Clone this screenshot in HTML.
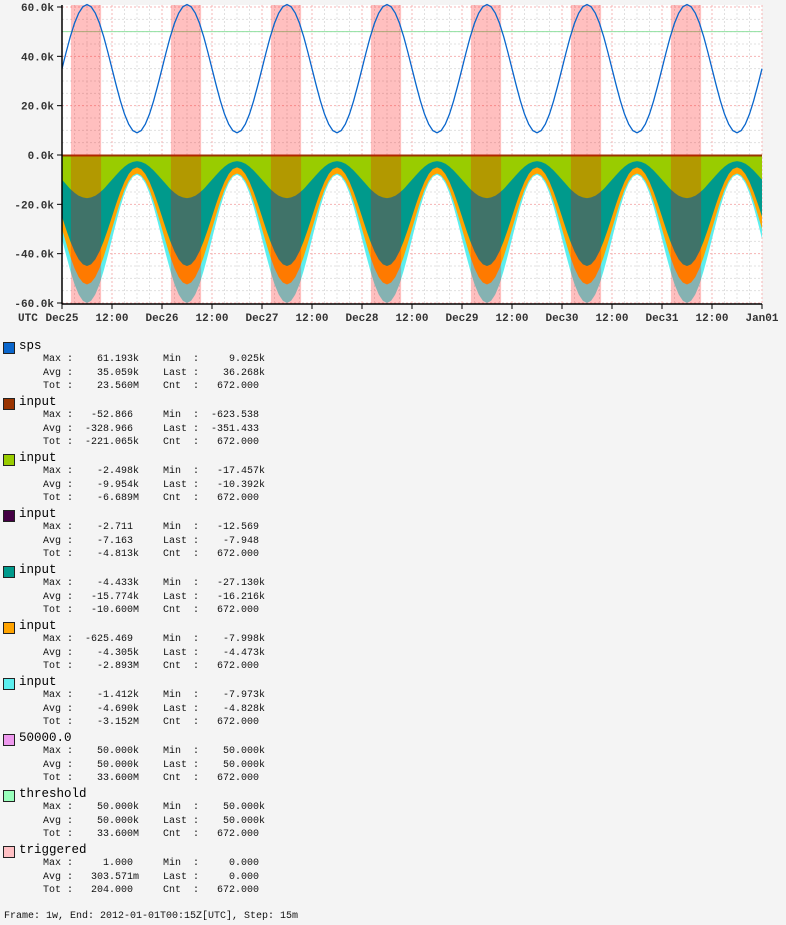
<!DOCTYPE html>
<html><head><meta charset="utf-8">
<style>
html,body{margin:0;padding:0;background:#f4f4f4;width:786px;height:925px;overflow:hidden;font-family:"Liberation Mono",monospace;}
#chart{position:absolute;left:0;top:0;}
.blk{position:absolute;left:0;width:400px;}
.sw{position:absolute;left:3px;top:1px;width:10px;height:10px;border:1px solid #222;}
.nm{position:absolute;left:19px;top:-2px;font:12.5px "Liberation Mono",monospace;color:#000;}
.st{position:absolute;left:43px;top:12px;margin:0;font:10px/13.5px "Liberation Mono",monospace;color:#111;white-space:pre;}
#footer{position:absolute;left:4px;top:911px;font:10px "Liberation Mono",monospace;color:#111;white-space:pre;}
</style></head><body>
<svg id="chart" width="786" height="330" xmlns="http://www.w3.org/2000/svg"></svg>

<div id="legend"></div>
<div id="footer">Frame: 1w, End: 2012-01-01T00:15Z[UTC], Step: 15m</div>

<script>
// hourly daily profiles (k units); repeated across 7 days
const spsProfile   = [35,41.7,48,53.4,57.5,60.1,61,60.1,57.5,53.4,48,41.7,35,28.3,22,16.6,12.5,9.9,9,9.9,12.5,16.6,22,28.3];
const limeProfile  = [-10,-11.9,-13.8,-15.3,-16.5,-17.2,-17.5,-17.2,-16.5,-15.3,-13.8,-11.9,-10,-8.1,-6.3,-4.7,-3.5,-2.8,-2.5,-2.8,-3.5,-4.7,-6.3,-8.1];
const tealProfile  = [-25,-30.2,-35,-39.1,-42.3,-44.3,-45,-44.3,-42.3,-39.1,-35,-30.2,-25,-19.8,-15,-10.9,-7.7,-5.7,-5,-5.7,-7.7,-10.9,-15,-19.8];
const orangeProfile= [-30,-35.8,-41.3,-45.9,-49.5,-51.7,-52.5,-51.7,-49.5,-45.9,-41.3,-35.8,-30,-24.2,-18.8,-14.1,-10.5,-8.3,-7.5,-8.3,-10.5,-14.1,-18.8,-24.2];
const cyanProfile  = [-34,-40.7,-47,-52.4,-56.5,-59.1,-60,-59.1,-56.5,-52.4,-47,-40.7,-34,-27.3,-21,-15.6,-11.5,-8.9,-8,-8.9,-11.5,-15.6,-21,-27.3];
const thresholdValue = 50;
const yTicks = [60,40,20,0,-20,-40,-60];
const yTickLabels = ["60.0k","40.0k","20.0k","0.0k","-20.0k","-40.0k","-60.0k"];
const xTickLabels = ["Dec25","12:00","Dec26","12:00","Dec27","12:00","Dec28","12:00","Dec29","12:00","Dec30","12:00","Dec31","12:00","Jan01"];
const days = 7, stepsPerHour = 4;

const X0=62, X1=762, Y0=155, YS=148/60, TOP=5, BOT=304;
const N = days*24*stepsPerHour;
const xs = i => X0 + i*(X1-X0)/N;
const ys = v => Y0 - v*YS;
function series(p){const out=[];for(let i=0;i<=N;i++){const h=i/stepsPerHour;const a=Math.floor(h)%24,b=(a+1)%24,f=h-Math.floor(h);out.push(p[a]*(1-f)+p[b]*f);}return out;}
const NS="http://www.w3.org/2000/svg";
const svg=document.getElementById('chart');
function el(t,attrs,parent){const e=document.createElementNS(NS,t);for(const k in attrs)e.setAttribute(k,attrs[k]);(parent||svg).appendChild(e);return e;}

let e=el('rect',{x:X0,y:TOP,width:X1-X0,height:BOT-TOP,fill:'#fff'});


const grid=el('g',{});


for(let v=-60;v<=60;v+=5){const major=v%20===0;el('line',{x1:X0,x2:X1,y1:ys(v),y2:ys(v),stroke:major?'#f6b4b4':'#e0e0e0','stroke-width':1,'stroke-dasharray':'2,2'},grid);}
for(let h=0;h<=days*24;h+=3){const x=X0+h*(X1-X0)/(days*24);const major=h%12===0;el('line',{x1:x,x2:x,y1:TOP,y2:BOT,stroke:major?'#f6b4b4':'#e0e0e0','stroke-width':1,'stroke-dasharray':'2,2'},grid);}

function area(data,color,name){let d='M'+xs(0)+','+Y0;data.forEach((v,i)=>{d+='L'+xs(i).toFixed(2)+','+ys(v).toFixed(2);});d+='L'+xs(N)+','+Y0+'Z';const p=el('path',{d:d,fill:color});

}
area(series(cyanProfile),'#5ceeee','area-input-cyan');
area(series(orangeProfile),'#ffa300','area-input-orange');
area(series(tealProfile),'#009a8c','area-input-teal');
area(series(limeProfile),'#99cc00','area-input-lime');
e=el('line',{x1:X0,x2:X1,y1:Y0+0.5,y2:Y0+0.5,stroke:'#993300','stroke-width':2});



e=el('line',{x1:X0,x2:X1,y1:ys(thresholdValue),y2:ys(thresholdValue),stroke:'#90e0a0','stroke-width':1});



const sps=series(spsProfile);
const bands=el('g',{});


let start=-1;
for(let i=0;i<=N;i++){const on=sps[i]>thresholdValue;if(on&&start<0)start=i;if((!on||i===N)&&start>=0){const r=el('rect',{x:xs(start)-1.5,y:TOP,width:xs(i)-xs(start),height:BOT-TOP,fill:'rgba(255,0,0,0.25)'},bands);


start=-1;}}

let d='';sps.forEach((v,i)=>{d+=(i?'L':'M')+xs(i).toFixed(2)+','+ys(v).toFixed(2);});
e=el('path',{d:d,fill:'none',stroke:'#0a66cc','stroke-width':1.3});



e=el('line',{x1:X0,x2:X0,y1:TOP,y2:BOT,stroke:'#000','stroke-width':1.5});


e=el('line',{x1:X0,x2:X1,y1:BOT,y2:BOT,stroke:'#000','stroke-width':1.5});


yTicks.forEach((v,i)=>{el('line',{x1:X0-5,x2:X0,y1:ys(v),y2:ys(v),stroke:'#000'});
const t=el('text',{x:54,y:ys(v)+4,'text-anchor':'end','font-family':'Liberation Mono, monospace','font-size':'11','font-weight':'bold',fill:'#333'});t.textContent=yTickLabels[i];

});
xTickLabels.forEach((s,i)=>{const x=X0+i*(X1-X0)/(xTickLabels.length-1);el('line',{x1:x,x2:x,y1:BOT,y2:BOT+5,stroke:'#000'});
const t=el('text',{x:x,y:321,'text-anchor':'middle','font-family':'Liberation Mono, monospace','font-size':'11','font-weight':'bold',fill:'#333'});t.textContent=s;

});
e=el('text',{x:18,y:321,'font-family':'Liberation Mono, monospace','font-size':'11','font-weight':'bold',fill:'#333'});e.textContent='UTC';



const legendNames=["sps","input","input","input","input","input","input","50000.0","threshold","triggered"];
const legendColors=["#0a66cc","#993300","#99cc00","#440044","#009a8c","#ffa300","#5ceeee","#ee99ee","#99ffbb","#ffc0c4"];
const legendStats=[
["Max :    61.193k    Min  :     9.025k","Avg :    35.059k    Last :    36.268k","Tot :    23.560M    Cnt  :   672.000 "],
["Max :   -52.866     Min  :  -623.538 ","Avg :  -328.966     Last :  -351.433 ","Tot :  -221.065k    Cnt  :   672.000 "],
["Max :    -2.498k    Min  :   -17.457k","Avg :    -9.954k    Last :   -10.392k","Tot :    -6.689M    Cnt  :   672.000 "],
["Max :    -2.711     Min  :   -12.569 ","Avg :    -7.163     Last :    -7.948 ","Tot :    -4.813k    Cnt  :   672.000 "],
["Max :    -4.433k    Min  :   -27.130k","Avg :   -15.774k    Last :   -16.216k","Tot :   -10.600M    Cnt  :   672.000 "],
["Max :  -625.469     Min  :    -7.998k","Avg :    -4.305k    Last :    -4.473k","Tot :    -2.893M    Cnt  :   672.000 "],
["Max :    -1.412k    Min  :    -7.973k","Avg :    -4.690k    Last :    -4.828k","Tot :    -3.152M    Cnt  :   672.000 "],
["Max :    50.000k    Min  :    50.000k","Avg :    50.000k    Last :    50.000k","Tot :    33.600M    Cnt  :   672.000 "],
["Max :    50.000k    Min  :    50.000k","Avg :    50.000k    Last :    50.000k","Tot :    33.600M    Cnt  :   672.000 "],
["Max :     1.000     Min  :     0.000 ","Avg :   303.571m    Last :     0.000 ","Tot :   204.000     Cnt  :   672.000 "]];
const legend=document.getElementById('legend');
legendNames.forEach((n,i)=>{const b=document.createElement('div');b.className='blk';b.style.top=(341+56*i)+'px';


const sw=document.createElement('div');sw.className='sw';sw.style.background=legendColors[i];


const nm=document.createElement('div');nm.className='nm';nm.textContent=n;


const st=document.createElement('pre');st.className='st';st.textContent=legendStats[i].join('\n');


b.appendChild(sw);b.appendChild(nm);b.appendChild(st);legend.appendChild(b);});
</script>
</body></html>
